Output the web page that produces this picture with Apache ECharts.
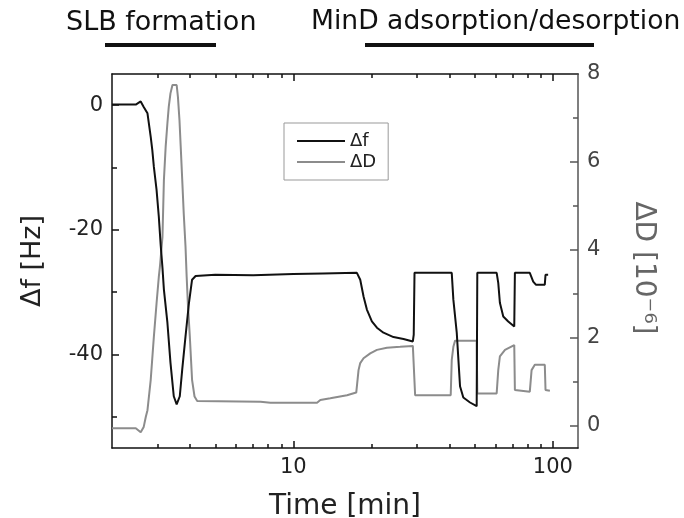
<!DOCTYPE html>
<html>
<head>
<meta charset="utf-8">
<script src="https://cdn.jsdelivr.net/npm/echarts@6/dist/echarts.min.js"></script>
<style>
html,body{margin:0;padding:0;background:#fff;}
#chart{width:684px;height:518px;}
</style>
</head>
<body>
<div id="chart"></div>
<script>
// ---- data ----
const fTime = [2.0, 2.47, 2.58, 2.65, 2.74, 2.82, 2.86, 2.90, 2.97, 3.03, 3.08, 3.13, 3.17, 3.27, 3.36, 3.46, 3.55, 3.65, 3.73, 3.84, 3.96, 4.07, 4.2, 5, 7, 10, 13, 17.57, 18.1, 18.64, 19.2, 20.07, 20.99, 22.25, 24.31, 26.57, 28.87, 29.1, 29.3, 35, 40.77, 41.36, 42.62, 43.88, 45.18, 47.96, 50.87, 51.15, 55, 60.74, 61.6, 62.5, 64.4, 67.3, 71.0, 71.4, 76, 81.5, 84.0, 86.0, 93.1, 93.7, 95.9];
const fValues = [0.1, 0.1, 0.6, -0.3, -1.3, -5.1, -7.2, -9.9, -13.6, -17.9, -22.4, -26.1, -29.6, -34.9, -41.3, -46.7, -48.0, -46.7, -42.4, -37.1, -31.7, -28.0, -27.4, -27.2, -27.3, -27.1, -27.0, -26.9, -28.0, -30.7, -32.8, -34.7, -35.7, -36.5, -37.2, -37.5, -37.9, -36.8, -26.9, -26.9, -26.9, -31.2, -36.5, -45.1, -46.9, -47.7, -48.3, -26.9, -26.9, -26.9, -28.5, -31.7, -33.9, -34.7, -35.5, -26.9, -26.9, -26.9, -28.3, -28.8, -28.8, -27.2, -27.2];

const dTime = [2.0, 2.47, 2.58, 2.65, 2.70, 2.74, 2.82, 2.90, 2.97, 3.03, 3.06, 3.13, 3.17, 3.22, 3.27, 3.31, 3.36, 3.42, 3.46, 3.55, 3.59, 3.64, 3.68, 3.73, 3.78, 3.84, 3.88, 3.92, 3.99, 4.07, 4.16, 4.26, 7.47, 8.16, 12.34, 12.70, 13.88, 16.09, 17.47, 17.83, 18.1, 18.64, 19.78, 20.99, 22.93, 25.79, 28.87, 29.1, 29.46, 40.4, 40.77, 41.36, 42.0, 50.87, 51.15, 60.74, 61.6, 62.5, 65.4, 71.0, 71.4, 81.5, 82.8, 85.2, 93.1, 93.7, 97.4];
const dValues = [-0.05, -0.05, -0.14, -0.02, 0.21, 0.36, 1.05, 2.03, 2.79, 3.39, 3.62, 4.3, 5.59, 6.35, 6.88, 7.26, 7.56, 7.75, 7.79, 7.75, 7.48, 6.95, 6.35, 5.59, 4.83, 4.08, 3.39, 2.79, 2.03, 1.05, 0.67, 0.57, 0.55, 0.53, 0.53, 0.59, 0.63, 0.70, 0.76, 1.27, 1.43, 1.54, 1.65, 1.73, 1.78, 1.80, 1.82, 1.78, 0.70, 0.70, 1.5, 1.80, 1.94, 1.94, 0.74, 0.74, 1.27, 1.58, 1.73, 1.84, 0.82, 0.78, 1.27, 1.39, 1.39, 0.82, 0.80];

const xMajorTicks = [10, 100];
const xMinorTicks = [3, 4, 5, 6, 7, 8, 9, 20, 30, 40, 50, 60, 70, 80, 90];
const fMajorTicks = [-40, -20, 0];
const fMinorTicks = [-50, -30, -10];
const dMajorTicks = [0, 2, 4, 6, 8];
const dMinorTicks = [1, 3, 5, 7];

const seriesNames = ['\u0394f', '\u0394D'];
const annotations = ['SLB formation', 'MinD adsorption/desorption'];

// ---- chart ----
const FONT = 'DejaVu Sans';
const BLACK = '#111';
const GREY = '#8c8c8c';
const chart = echarts.init(document.getElementById('chart'), null, {renderer: 'canvas'});

function xAx(pos, ticks, len, showLine, showLabel, extra) {
  return Object.assign({
    type: 'log', logBase: 10, min: 2, max: 125, position: pos, gridIndex: 0,
    axisLine: {show: showLine, onZero: false, lineStyle: {color: BLACK, width: 1.5}},
    axisTick: {show: true, inside: true, length: len, customValues: ticks, lineStyle: {color: BLACK, width: 1.5}},
    axisLabel: showLabel ? {show: true, customValues: ticks, fontSize: 21, fontFamily: FONT, color: '#222', margin: 9} : {show: false},
    splitLine: {show: false}, minorTick: {show: false}, minorSplitLine: {show: false}
  }, extra || {});
}
function yAx(pos, min, max, ticks, len, showLine, showLabel, color, extra) {
  return Object.assign({
    type: 'value', min: min, max: max, position: pos, gridIndex: 0,
    axisLine: {show: showLine, onZero: false, lineStyle: {color: color, width: 1.5}},
    axisTick: {show: true, inside: true, length: len, customValues: ticks, lineStyle: {color: color, width: 1.5}},
    axisLabel: showLabel ? {show: true, customValues: ticks, fontSize: 21, fontFamily: FONT, color: color === BLACK ? '#222' : '#444', margin: 9} : {show: false},
    splitLine: {show: false}
  }, extra || {});
}

const option = {
  backgroundColor: '#fff',
  animation: false,
  grid: {left: 112, right: 106, top: 74, bottom: 70, containLabel: false, outerBoundsMode: 'none'},
  legend: {
    orient: 'vertical', left: 284, top: 123,
    data: seriesNames,
    icon: 'rect',
    borderColor: '#999', borderWidth: 1,
    padding: [9, 12, 9, 13], itemGap: 3,
    itemWidth: 48, itemHeight: 2,
    textStyle: {fontSize: 18, fontFamily: FONT, color: '#222'}
  },
  xAxis: [
    xAx('bottom', xMajorTicks, 7, true, true, {
      name: 'Time [min]', nameLocation: 'middle', nameGap: 45,
      nameTextStyle: {fontSize: 28, fontFamily: FONT, color: '#222'}
    }),
    xAx('bottom', xMinorTicks, 4, false, false),
    xAx('top', xMajorTicks, 7, true, false),
    xAx('top', xMinorTicks, 4, false, false)
  ],
  yAxis: [
    yAx('left', -55, 5, fMajorTicks, 7, true, true, BLACK, {
      name: '\u0394f [Hz]', nameLocation: 'middle', nameGap: 66, nameRotate: 90,
      nameTextStyle: {fontSize: 27, fontFamily: FONT, color: '#222'}
    }),
    yAx('left', -55, 5, fMinorTicks, 5, false, false, BLACK),
    yAx('right', -0.5, 8, dMajorTicks, 8, true, true, '#555', {
      name: '\u0394D [10\u207B\u2076]', nameLocation: 'middle', nameGap: 51, nameRotate: -90,
      nameTextStyle: {fontSize: 28, fontFamily: FONT, color: '#666', padding: [0, 0, 0, 14]}
    }),
    yAx('right', -0.5, 8, dMinorTicks, 5, false, false, '#555')
  ],
  series: [
    {
      name: seriesNames[0], type: 'line', xAxisIndex: 0, yAxisIndex: 0,
      symbol: 'none', smooth: false,
      lineStyle: {color: BLACK, width: 2}, itemStyle: {color: BLACK},
      data: fTime.map((t, i) => [t, fValues[i]]), z: 3
    },
    {
      name: seriesNames[1], type: 'line', xAxisIndex: 0, yAxisIndex: 2,
      symbol: 'none', smooth: false,
      lineStyle: {color: GREY, width: 2}, itemStyle: {color: GREY},
      data: dTime.map((t, i) => [t, dValues[i]]), z: 2
    }
  ],
  graphic: [
    {type: 'text', left: 66, top: 9, style: {text: annotations[0], font: '27px "DejaVu Sans"', fill: '#111'}},
    {type: 'text', left: 311, top: 9, style: {text: annotations[1], font: '26.6px "DejaVu Sans"', fill: '#111'}},
    {type: 'rect', shape: {x: 105, y: 43, width: 111, height: 4}, style: {fill: '#111'}},
    {type: 'rect', shape: {x: 365, y: 43, width: 229, height: 4}, style: {fill: '#111'}}
  ]
};
chart.setOption(option);
</script>
</body>
</html>
